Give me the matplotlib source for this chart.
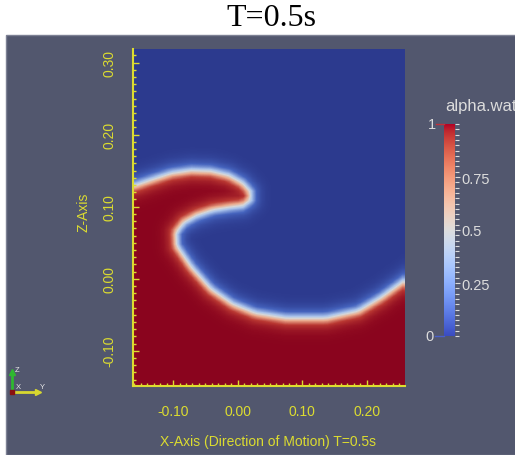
import numpy as np
import matplotlib
matplotlib.use("Agg")
import matplotlib.pyplot as plt
from matplotlib.path import Path
from matplotlib.colors import LinearSegmentedColormap
from matplotlib.lines import Line2D
from matplotlib.patches import Rectangle

W, H = 515, 456

# free-surface trace (alpha.water = 0.5), x and z in metres
surface_x = [-0.162, -0.136, -0.105, -0.074, -0.043, -0.015, 0.007, 0.019, 0.019,
             0.007, -0.012, -0.040, -0.066, -0.086, -0.098, -0.097, -0.074, -0.043,
             -0.009, 0.027, 0.076, 0.138, 0.189, 0.225, 0.256]
surface_z = [0.130, 0.138, 0.147, 0.151, 0.150, 0.144, 0.133, 0.121, 0.110,
             0.102, 0.100, 0.096, 0.088, 0.078, 0.064, 0.045, 0.015, -0.016,
             -0.037, -0.050, -0.057, -0.057, -0.047, -0.028, -0.008]

x_range = (-0.162, 0.259)
z_range = (-0.149, 0.319)
x_ticks = [-0.10, 0.00, 0.10, 0.20]
z_ticks = [-0.10, 0.00, 0.10, 0.20, 0.30]
cbar_ticks = [0.25, 0.5, 0.75]
cbar_labels = ["0.25", "0.5", "0.75"]

title = "T=0.5s"
x_label = "X-Axis (Direction of Motion) T=0.5s"
z_label = "Z-Axis"
field_name = "alpha.water"

BG = "#52576e"
YEL = "#dcdc30"
LIGHT = "#dcdcdc"
AX_FS = 10


def fx(px):
    return px / W


def fy(py):
    return 1 - py / H


# ---- volume-fraction field from the surface trace ----
nx, nz = 58, 70
xc = np.linspace(x_range[0], x_range[1], nx)
zc = np.linspace(z_range[0], z_range[1], nz)
X, Z = np.meshgrid(xc, zc)
P = np.column_stack([X.ravel(), Z.ravel()])

sx = np.array(surface_x)
sz = np.array(surface_z)
line = np.column_stack([np.r_[-0.25, sx, 0.32], np.r_[sz[0], sz, 0.035]])
poly = np.vstack([line, [[0.32, -0.30], [-0.25, -0.30]]])

A = line[:-1]
B = line[1:]
AB = B - A
AP = P[:, None, :] - A[None, :, :]
t = np.clip((AP * AB[None]).sum(-1) / (AB ** 2).sum(-1)[None], 0, 1)
proj = A[None] + t[..., None] * AB[None]
dist = np.linalg.norm(P[:, None, :] - proj, axis=-1).min(axis=1)
inside = Path(poly).contains_points(P)
sd = np.where(inside, dist, -dist)
alpha = (0.5 * (1 + np.tanh(sd / 0.0135))).reshape(nz, nx)

field_cmap = LinearSegmentedColormap.from_list(
    "field",
    [(0.0, (44/255, 58/255, 142/255)),
     (0.2, (70/255, 100/255, 190/255)),
     (0.4, (170/255, 195/255, 235/255)),
     (0.5, (215/255, 215/255, 215/255)),
     (0.62, (235/255, 170/255, 140/255)),
     (0.8, (185/255, 55/255, 50/255)),
     (1.0, (138/255, 4/255, 30/255))])

fig = plt.figure(figsize=(W / 100, H / 100), dpi=100)
fig.patch.set_facecolor("white")

# render-view panel
fig.add_artist(Rectangle((fx(6), 0), 1 - fx(6) + 0.01, fy(36), transform=fig.transFigure,
                         facecolor=BG, edgecolor="#7d8194", lw=1.0, zorder=0))

fig.text(0.528, fy(18), title, ha="center", va="center",
         family="Liberation Serif", fontsize=23, color="black")

# ---- main axes ----
ax = fig.add_axes([fx(133), fy(387), fx(405) - fx(133), fy(50) - fy(387)])
ax.set_facecolor("none")
ax.imshow(alpha, origin="lower", extent=[x_range[0], x_range[1], z_range[0], z_range[1]],
          aspect="auto", cmap=field_cmap, vmin=0, vmax=1, interpolation="bilinear", zorder=1)
ax.set_xlim(*x_range)
ax.set_ylim(*z_range)
for s in ("top", "right"):
    ax.spines[s].set_visible(False)
for s in ("left", "bottom"):
    ax.spines[s].set_color(YEL)
    ax.spines[s].set_linewidth(1.5)
    ax.spines[s].set_zorder(3)

ax.set_xticks(x_ticks)
ax.set_xticklabels([f"{v:.2f}" for v in x_ticks])
ax.set_yticks(z_ticks)
ax.set_yticklabels([f"{v:.2f}" for v in z_ticks], rotation=90, va="center")
ax.set_xticks(np.arange(-0.16, 0.26, 0.01), minor=True)
ax.set_yticks(np.arange(-0.14, 0.32, 0.01), minor=True)
ax.tick_params(which="both", direction="in", colors=YEL, width=1.0)
ax.tick_params(which="major", length=4.5)
ax.tick_params(which="minor", length=2.2)
ax.tick_params(axis="x", which="major", pad=13, labelsize=AX_FS, labelcolor=YEL)
ax.tick_params(axis="y", which="major", pad=12, labelsize=AX_FS, labelcolor=YEL)
for lab in ax.get_xticklabels() + ax.get_yticklabels():
    lab.set_family("Liberation Sans")

fig.text(fx(268), fy(442), x_label, ha="center", va="center", color=YEL,
         family="Liberation Sans", fontsize=AX_FS)
fig.text(fx(84), fy(212), z_label, ha="center", va="center", color=YEL,
         family="Liberation Sans", fontsize=AX_FS, rotation=90)

# ---- colour legend ----
cax = fig.add_axes([fx(444), fy(337), fx(455) - fx(444), fy(125) - fy(337)])
grad = np.linspace(0, 1, 256)[:, None]
cax.imshow(grad, origin="lower", extent=[0, 1, 0, 1], aspect="auto",
           cmap="coolwarm", vmin=0, vmax=1)
cax.set_xlim(0, 1)
cax.set_ylim(0, 1)
for s in cax.spines.values():
    s.set_visible(False)
cax.set_xticks([])
cax.yaxis.tick_right()
cax.set_yticks(cbar_ticks)
cax.set_yticklabels(cbar_labels)
cax.set_yticks(np.arange(0, 1.0001, 0.025), minor=True)
cax.tick_params(axis="y", which="both", colors=LIGHT, direction="out", width=0.8)
cax.tick_params(axis="y", which="major", length=3.8, pad=0.5, labelsize=10.5, labelcolor=LIGHT)
cax.tick_params(axis="y", which="minor", length=3.0)
for lab in cax.get_yticklabels():
    lab.set_family("Liberation Sans")

# legend title runs past the right edge of the view, as in the render window
fig.text(fx(445), fy(107), field_name, ha="left", va="center", color=LIGHT,
         family="Liberation Sans", fontsize=12)
fig.text(fx(432), fy(125), "1", ha="center", va="center", color=LIGHT,
         family="Liberation Sans", fontsize=10.5)
fig.text(fx(430), fy(337), "0", ha="center", va="center", color=LIGHT,
         family="Liberation Sans", fontsize=10.5)
fig.add_artist(Line2D([fx(436), fx(444)], [fy(125), fy(125)], color="#c0303a", lw=1,
                      transform=fig.transFigure))
fig.add_artist(Line2D([fx(435), fx(444)], [fy(337), fy(337)], color="#4a60c8", lw=1,
                      transform=fig.transFigure))

# ---- orientation triad ----
fig.add_artist(Line2D([fx(12), fx(12)], [fy(393), fy(373)], color="#2fb830", lw=2,
                      transform=fig.transFigure))
fig.add_artist(Line2D([fx(12)], [fy(373)], marker="^", ms=4, color="#2fb830",
                      transform=fig.transFigure))
fig.add_artist(Line2D([fx(12), fx(38)], [fy(393), fy(393)], color="#d8d830", lw=2,
                      transform=fig.transFigure))
fig.add_artist(Line2D([fx(38)], [fy(393)], marker=">", ms=4, color="#d8d830",
                      transform=fig.transFigure))
fig.add_artist(Line2D([fx(12)], [fy(393)], marker="s", ms=3.5, color="#8a1010",
                      transform=fig.transFigure))
for txt, px, py in (("Z", 17, 371), ("X", 18, 388), ("Y", 42, 388)):
    fig.text(fx(px), fy(py), txt, ha="center", va="center", color="#e8e8e8",
             family="Liberation Sans", fontsize=5.5)

fig.savefig("out.png", dpi=100, facecolor="white")
